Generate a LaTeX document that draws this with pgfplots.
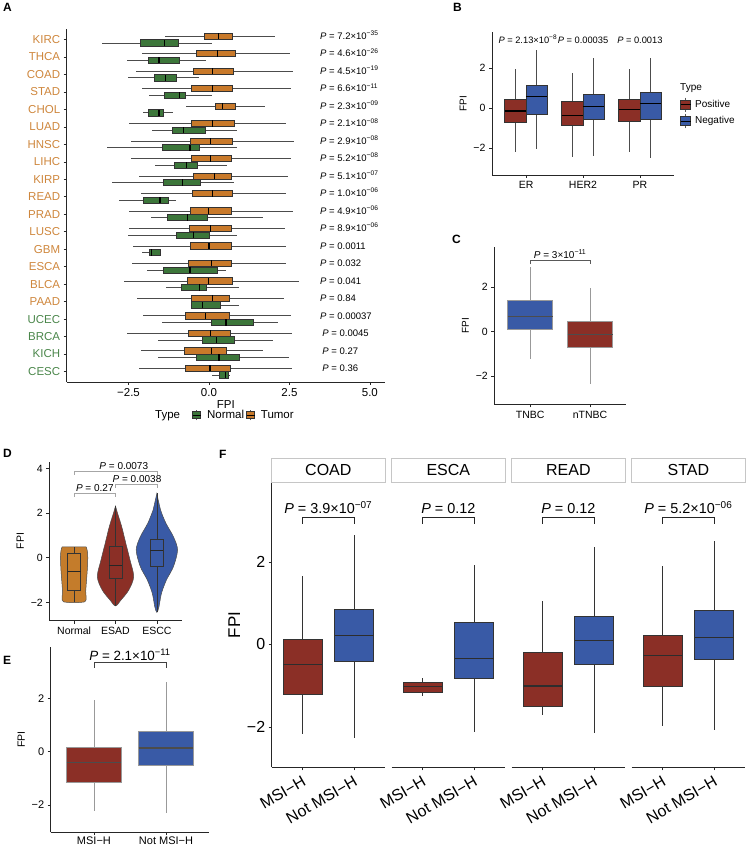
\documentclass[border=0pt]{standalone}
\usepackage{pgfplots}
\pgfplotsset{compat=1.18}
\usepackage{pgfplotstable}
\usepgfplotslibrary{statistics}
\usepackage{fontspec}
\setmainfont{Liberation Sans}

\definecolor{ora}{RGB}{200,121,42}
\definecolor{oralab}{RGB}{206,134,60}
\definecolor{grn}{RGB}{60,118,58}
\definecolor{grnlab}{RGB}{74,134,74}
\definecolor{redb}{RGB}{139,47,38}
\definecolor{blueb}{RGB}{57,90,166}
\definecolor{oraD}{RGB}{196,124,43}

\newcommand{\fs}[1]{\fontsize{#1}{#1}\selectfont}
\newcommand{\sci}[2]{\textit{P} = #1×10\textsuperscript{−#2}}
\newcommand{\pv}[1]{\textit{P} = #1}

% one prepared boxplot from a table row: {table}{row}{position}{style}
\newcommand{\bxrow}[4]{%
  \pgfplotstablegetelem{#2}{lw}\of#1\edef\vlw{\pgfplotsretval}%
  \pgfplotstablegetelem{#2}{q1}\of#1\edef\vqa{\pgfplotsretval}%
  \pgfplotstablegetelem{#2}{med}\of#1\edef\vmed{\pgfplotsretval}%
  \pgfplotstablegetelem{#2}{q3}\of#1\edef\vqb{\pgfplotsretval}%
  \pgfplotstablegetelem{#2}{uw}\of#1\edef\vuw{\pgfplotsretval}%
  \edef\doit{\noexpand\addplot[#4, boxplot prepared={draw position={#3},
     lower whisker=\vlw, lower quartile=\vqa, median=\vmed,
     upper quartile=\vqb, upper whisker=\vuw}] coordinates {};}%
  \doit}

% Panel A
\pgfplotstableread{
name lw q1 med q3 uw
KIRC -1.37 -0.16 0.29 0.72 2.05
THCA -2.07 -0.40 0.26 0.81 2.52
COAD -2.27 -0.49 0.11 0.76 2.60
STAD -2.07 -0.56 0.10 0.72 2.54
CHOL -0.71 0.19 0.42 0.83 1.74
LUAD -2.47 -0.56 0.10 0.78 2.38
HNSC -2.42 -0.57 0.05 0.72 2.64
LIHC -2.42 -0.56 0.05 0.70 2.54
KIRP -2.16 -0.49 0.16 0.70 2.46
READ -2.12 -0.52 0.11 0.72 2.38
PRAD -2.47 -0.59 -0.02 0.68 2.60
LUSC -2.47 -0.61 0.05 0.68 2.36
GBM -2.37 -0.57 0.00 0.68 2.39
ESCA -2.40 -0.64 0.08 0.68 2.38
BLCA -2.64 -0.66 -0.02 0.72 2.80
PAAD -2.25 -0.56 0.11 0.62 2.33
UCEC -2.06 -0.72 -0.10 0.62 2.54
BRCA -2.56 -0.63 0.05 0.65 2.59
KICH -2.11 -0.78 0.08 0.53 1.69
CESC -2.17 -0.72 0.03 0.67 2.57
}\tumA
\pgfplotstableread{
name lw q1 med q3 uw
KIRC -3.33 -2.14 -1.37 -0.95 0.11
THCA -2.56 -1.88 -1.55 -0.92 -0.10
COAD -2.53 -1.70 -1.34 -1.00 -0.31
STAD -1.86 -1.39 -0.92 -0.75 0.08
CHOL -2.04 -1.88 -1.55 -1.42 -1.11
LUAD -1.78 -1.14 -0.80 -0.10 0.86
HNSC -3.16 -1.45 -0.59 -0.30 0.86
LIHC -1.68 -1.09 -0.69 -0.35 0.57
KIRP -3.02 -1.42 -0.83 -0.26 0.79
READ -2.78 -2.04 -1.52 -1.26 -1.02
PRAD -1.80 -1.28 -0.66 -0.04 1.69
LUSC -2.51 -1.02 -0.49 0.00 0.86
GBM -2.07 -1.86 -1.78 -1.50 -1.50
ESCA -1.92 -1.42 -0.59 0.26 0.52
BLCA -1.35 -0.87 -0.30 -0.09 0.93
PAAD -0.57 -0.56 -0.21 0.36 0.94
UCEC -1.45 0.08 0.53 1.38 2.15
BRCA -1.57 -0.20 0.24 0.78 2.00
KICH -1.57 -0.40 0.31 0.94 2.48
CESC 0.10 0.31 0.52 0.60 0.65
}\norA
% Panel B
\pgfplotstableread{
name lw q1 med q3 uw
ER -2.20 -0.70 -0.14 0.42 1.95
HER2 -2.42 -0.87 -0.37 0.33 1.75
PR -2.20 -0.67 -0.08 0.42 1.95
}\posB
\pgfplotstableread{
name lw q1 med q3 uw
ER -2.03 -0.30 0.60 1.13 2.88
HER2 -2.37 -0.53 0.07 0.67 2.50
PR -2.47 -0.55 0.25 0.80 2.50
}\negB
% Panel C
\pgfplotstableread{
name lw q1 med q3 uw
TNBC -1.24 0.12 0.68 1.40 2.91
nTNBC -2.37 -0.70 -0.12 0.45 1.98
}\tabC
% Panel D
\pgfplotstableread{
name lw q1 med q3 uw
Normal -1.97 -1.45 -0.61 0.22 0.49
ESAD -2.16 -0.92 -0.36 0.52 2.31
ESCC -2.45 -0.37 0.31 0.82 2.88
}\tabD
% Panel E
\pgfplotstableread{
name lw q1 med q3 uw
MSIH -2.21 -1.15 -0.41 0.15 1.94
NotMSIH -2.31 -0.50 0.14 0.78 2.60
}\tabE
% Panel F
\pgfplotstableread{
name lw q1 med q3 uw
COAD -2.18 -1.20 -0.49 0.13 1.66
ESCA -1.25 -1.15 -1.03 -0.93 -0.82
READ -1.70 -1.51 -1.01 -0.18 1.06
STAD -1.98 -1.01 -0.26 0.23 1.91
}\msiF
\pgfplotstableread{
name lw q1 med q3 uw
COAD -2.28 -0.40 0.21 0.86 2.65
ESCA -2.12 -0.82 -0.34 0.53 1.92
READ -2.14 -0.48 0.10 0.67 2.37
STAD -2.08 -0.35 0.17 0.83 2.51
}\notF

\pgfplotsset{
  every axis/.append style={scale only axis, axis lines=left,
    axis line style={-, line width=0.6pt, black!85},
    tick style={black!85, line width=0.6pt}, tick align=outside,
    major tick length=3pt, clip=false,
    /pgf/number format/assume math mode=true},
  bxs/.style n args={4}{boxplot/every box/.style={draw=#2, fill=#1, line width=0.6pt},
     boxplot/every whisker/.style={draw=#3, line width=0.6pt},
     boxplot/every median/.style={draw=#4, line width=1.2pt}},
  bxo/.style 2 args={boxplot/draw direction=#2, boxplot/box extend=#1, boxplot/whisker extend=0},
  keyB/.style={legend image code/.code={
     \draw[gray!70!black, line width=0.5pt] (5pt,-7pt)--(5pt,7pt);
     \draw[##1, line width=0.5pt] (0pt,-4.5pt) rectangle (10pt,4.5pt);
     \draw[black, line width=0.9pt] (0pt,0pt)--(10pt,0pt);}},
  keyA/.style={legend image code/.code={
     \draw[gray!70!black, line width=0.5pt] (4pt,-5pt)--(4pt,5pt);
     \draw[##1, line width=0.5pt] (0pt,-3.3pt) rectangle (8pt,3.3pt);
     \draw[black, line width=0.8pt] (0pt,0pt)--(8pt,0pt);}},
  facetF/.style={width=113.3pt, height=285pt, anchor=south west,
     xmin=0.4, xmax=2.6, ymin=-2.98, ymax=3.93,
     xtick={1,2}, xticklabels={MSI−H,Not MSI−H},
     xticklabel style={rotate=30, anchor=north east, font=\fs{16}},
     yticklabel style={font=\fs{16}},
     every axis title/.style={at={(0.5,1)}, anchor=south, draw=gray!45, fill=white,
        line width=0.6pt, minimum width=113.3pt, minimum height=24pt, inner sep=0pt, font=\fs{16}}},
}

\begin{document}
\begin{tikzpicture}
\path[use as bounding box] (0,0) rectangle (748pt,847pt);

% ---------------- Panel A ----------------
\begin{axis}[at={(66.7pt,465pt)}, anchor=south west, width=318.3pt, height=353pt,
  xmin=-4.42, xmax=5.47, ymin=0.4, ymax=20.6,
  xtick={-2.5,0,2.5,5}, xticklabels={−2.5,0.0,2.5,5.0},
  ytick={1,...,20},
  yticklabels={\textcolor{grnlab}{CESC},\textcolor{grnlab}{KICH},\textcolor{grnlab}{BRCA},\textcolor{grnlab}{UCEC},\textcolor{oralab}{PAAD},\textcolor{oralab}{BLCA},\textcolor{oralab}{ESCA},\textcolor{oralab}{GBM},\textcolor{oralab}{LUSC},\textcolor{oralab}{PRAD},\textcolor{oralab}{READ},\textcolor{oralab}{KIRP},\textcolor{oralab}{LIHC},\textcolor{oralab}{HNSC},\textcolor{oralab}{LUAD},\textcolor{oralab}{CHOL},\textcolor{oralab}{STAD},\textcolor{oralab}{COAD},\textcolor{oralab}{THCA},\textcolor{oralab}{KIRC}},
  ticklabel style={font=\fs{11.5}},
  xlabel={FPI}, xlabel style={font=\fs{11.5}, yshift=2.5pt},
  legend columns=-1,
  legend style={at={(0.557,-0.0935)}, anchor=center, draw=none, fill=none, font=\fs{11.5},
    inner sep=0pt}]
\addlegendimage{keyA, fill=grn, draw=black!80}\addlegendentry{\hspace{4pt}Normal\hspace{7pt}}
\addlegendimage{keyA, fill=ora, draw=black!80}\addlegendentry{\hspace{4pt}Tumor}
\pgfplotsinvokeforeach{0,...,19}{
 \bxrow{\tumA}{#1}{20.19-#1}{black, bxs={ora}{black!80}{gray!60!black}{black}, bxo={0.36}{x}}
 \bxrow{\norA}{#1}{19.81-#1}{black, bxs={grn}{black!80}{gray!60!black}{black}, bxo={0.36}{x}}
}
\begin{scope}[every node/.style={anchor=base west, font=\fs{9.5}, inner sep=0pt}]
\node at (axis cs:3.45,20) {\sci{7.2}{35}};
\node at (axis cs:3.45,19) {\sci{4.6}{26}};
\node at (axis cs:3.45,18) {\sci{4.5}{19}};
\node at (axis cs:3.45,17) {\sci{6.6}{11}};
\node at (axis cs:3.45,16) {\sci{2.3}{09}};
\node at (axis cs:3.45,15) {\sci{2.1}{08}};
\node at (axis cs:3.45,14) {\sci{2.9}{08}};
\node at (axis cs:3.45,13) {\sci{5.2}{08}};
\node at (axis cs:3.45,12) {\sci{5.1}{07}};
\node at (axis cs:3.45,11) {\sci{1.0}{06}};
\node at (axis cs:3.45,10) {\sci{4.9}{06}};
\node at (axis cs:3.45,9) {\sci{8.9}{06}};
\node at (axis cs:3.45,8) {\pv{0.0011}};
\node at (axis cs:3.45,7) {\pv{0.032}};
\node at (axis cs:3.45,6) {\pv{0.041}};
\node at (axis cs:3.45,5) {\pv{0.84}};
\node at (axis cs:3.45,4) {\pv{0.00037}};
\node at (axis cs:3.52,3) {\pv{0.0045}};
\node at (axis cs:3.52,2) {\pv{0.27}};
\node at (axis cs:3.52,1) {\pv{0.36}};
\end{scope}
\end{axis}
\node[anchor=base west, font=\fs{11.5}, inner sep=0pt] at (155pt,428.5pt) {Type};

% ---------------- Panel B ----------------
\begin{axis}[at={(492pt,672pt)}, anchor=south west, width=182pt, height=143pt,
  xmin=0.4, xmax=3.6, ymin=-3.33, ymax=3.8,
  xtick={1,2,3}, xticklabels={ER,HER2,PR}, ytick={-2,0,2}, yticklabels={−2,0,2},
  ticklabel style={font=\fs{10.5}}, ylabel={FPI}, ylabel style={font=\fs{10}},
  legend style={at={(1.033,0.545)}, anchor=north west, draw=none, fill=none, font=\fs{10},
    legend cell align=left, row sep=2pt, inner sep=0pt}]
\addlegendimage{keyB, fill=redb, draw=black!80}\addlegendentry{\hspace{2pt}Positive}
\addlegendimage{keyB, fill=blueb, draw=black!80}\addlegendentry{\hspace{2pt}Negative}
\pgfplotsinvokeforeach{0,1,2}{
 \bxrow{\posB}{#1}{#1+0.8125}{black, bxs={redb}{black!80}{gray!60!black}{black}, bxo={0.375}{y}}
 \bxrow{\negB}{#1}{#1+1.1875}{black, bxs={blueb}{black!80}{gray!60!black}{black}, bxo={0.375}{y}}
}
\node[anchor=base, font=\fs{9.3}] at (axis cs:1.03,3.25) {\sci{2.13}{8}};
\node[anchor=base, font=\fs{9.3}] at (axis cs:2,3.25) {\pv{0.00035}};
\node[anchor=base, font=\fs{9.3}] at (axis cs:3,3.25) {\pv{0.0013}};
\end{axis}
\node[anchor=base west, font=\fs{10}, inner sep=0pt] at (680pt,756pt) {Type};

% ---------------- Panel C ----------------
\begin{axis}[at={(494.3pt,442.7pt)}, anchor=south west, width=131.7pt, height=157.6pt,
  xmin=0.4, xmax=2.6, ymin=-3.27, ymax=3.83,
  xtick={1,2}, xticklabels={TNBC,nTNBC}, ytick={-2,0,2}, yticklabels={−2,0,2},
  ticklabel style={font=\fs{10.5}}, ylabel={FPI}, ylabel style={font=\fs{10}}]
\bxrow{\tabC}{0}{1}{gray, bxs={blueb}{gray!80}{gray!80}{gray!60!black}, bxo={0.75}{y}}
\bxrow{\tabC}{1}{2}{gray, bxs={redb}{gray!80}{gray!80}{gray!60!black}, bxo={0.75}{y}}
\addplot[gray!70!black, line width=0.6pt] coordinates {(1,3.05) (1,3.2) (2,3.2) (2,3.05)};
\node[anchor=base, font=\fs{10}] at (axis cs:1.5,3.3) {\sci{3}{11}};
\end{axis}

% ---------------- Panel D ----------------
\begin{axis}[at={(49.3pt,226.3pt)}, anchor=south west, width=132.4pt, height=159pt,
  xmin=0.4, xmax=3.6, ymin=-2.82, ymax=4.3,
  xtick={1,2,3}, xticklabels={Normal,ESAD,ESCC}, ytick={-2,0,2,4}, yticklabels={−2,0,2,4},
  ticklabel style={font=\fs{10.5}}, ylabel={FPI}, ylabel style={font=\fs{10.5}}]
\addplot[fill=oraD, draw=black!70, line width=0.5pt, smooth, tension=0.4] coordinates {
 (1.29,0.49) (1.32,0.3) (1.33,0) (1.32,-0.5) (1.30,-1.0) (1.28,-1.5) (1.26,-1.97)
 (0.74,-1.97) (0.72,-1.5) (0.70,-1.0) (0.68,-0.5) (0.67,0) (0.68,0.3) (0.71,0.49)} -- cycle;
\addplot[fill=redb, draw=black!70, line width=0.5pt, smooth, tension=0.5] coordinates {
 (2.0,2.31) (2.05,1.99) (2.15,1.39) (2.25,0.64) (2.35,-0.1) (2.44,-0.85) (2.32,-1.45) (2.13,-1.9) (2.0,-2.16)
 (1.87,-1.9) (1.68,-1.45) (1.56,-0.85) (1.65,-0.1) (1.75,0.64) (1.85,1.39) (1.95,1.99)} -- cycle;
\addplot[fill=blueb, draw=black!70, line width=0.5pt, smooth, tension=0.5] coordinates {
 (3.0,2.88) (3.09,2.14) (3.22,1.54) (3.40,0.94) (3.50,0.35) (3.40,-0.4) (3.23,-1.0) (3.11,-1.6) (3.05,-2.2) (3.0,-2.45)
 (2.95,-2.2) (2.89,-1.6) (2.77,-1.0) (2.60,-0.4) (2.50,0.35) (2.60,0.94) (2.78,1.54) (2.91,2.14)} -- cycle;
\pgfplotsinvokeforeach{0,1,2}{
 \bxrow{\tabD}{#1}{#1+1}{black, boxplot/every box/.style={draw=black!80, fill=none, line width=0.5pt},
   boxplot/every whisker/.style={draw=black!80, line width=0.5pt},
   boxplot/every median/.style={draw=black!85, line width=0.8pt}, bxo={0.32}{y}}
}
\addplot[gray!70, line width=0.6pt] coordinates {(1,2.72) (1,2.88) (2,2.88) (2,2.72)};
\addplot[gray!70, line width=0.6pt] coordinates {(2,3.14) (2,3.30) (3,3.30) (3,3.14)};
\addplot[gray!70, line width=0.6pt] coordinates {(1,3.72) (1,3.88) (3,3.88) (3,3.72)};
\node[anchor=base, font=\fs{10}] at (axis cs:1.5,2.97) {\pv{0.27}};
\node[anchor=base, font=\fs{10}] at (axis cs:2.52,3.39) {\pv{0.0038}};
\node[anchor=base, font=\fs{10}] at (axis cs:2.2,3.97) {\pv{0.0073}};
\end{axis}

% ---------------- Panel E ----------------
\begin{axis}[at={(50.7pt,14.7pt)}, anchor=south west, width=158.6pt, height=185.6pt,
  xmin=0.4, xmax=2.6, ymin=-3.02, ymax=3.93,
  xtick={1,2}, xticklabels={MSI−H,Not MSI−H}, ytick={-2,0,2}, yticklabels={−2,0,2},
  ticklabel style={font=\fs{11}}, xticklabel style={yshift=2pt},
  ylabel={FPI}, ylabel style={font=\fs{10.5}}]
\bxrow{\tabE}{0}{1}{gray, bxs={redb}{gray!80}{gray!80}{gray!60!black}, bxo={0.76}{y}}
\bxrow{\tabE}{1}{2}{gray, bxs={blueb}{gray!80}{gray!80}{gray!60!black}, bxo={0.76}{y}}
\addplot[black!75, line width=0.6pt] coordinates {(1,3.15) (1,3.33) (2,3.33) (2,3.15)};
\node[anchor=base, font=\fs{13.4}] at (axis cs:1.5,3.42) {\sci{2.1}{11}};
\end{axis}

% ---------------- Panel F ----------------
\begin{axis}[facetF, at={(271.7pt,79.7pt)}, title={COAD},
  ytick={-2,0,2}, yticklabels={−2,0,2}, ylabel={FPI}, ylabel style={font=\fs{17}}]
\bxrow{\msiF}{0}{1}{gray, bxs={redb}{gray!40!black}{gray!40!black}{gray!35!black}, bxo={0.76}{y}}
\bxrow{\notF}{0}{2}{gray, bxs={blueb}{gray!40!black}{gray!40!black}{gray!35!black}, bxo={0.76}{y}}
\addplot[black!85, line width=0.7pt] coordinates {(1,2.92) (1,3.09) (2,3.09) (2,2.92)};
\node[anchor=base, font=\fs{14.4}] at (axis cs:1.5,3.18) {\sci{3.9}{07}};
\end{axis}
\begin{axis}[facetF, at={(391.7pt,79.7pt)}, title={ESCA}, axis y line=none, ytick=\empty]
\bxrow{\msiF}{1}{1}{gray, bxs={redb}{gray!40!black}{gray!40!black}{gray!35!black}, bxo={0.76}{y}}
\bxrow{\notF}{1}{2}{gray, bxs={blueb}{gray!40!black}{gray!40!black}{gray!35!black}, bxo={0.76}{y}}
\addplot[black!85, line width=0.7pt] coordinates {(1,2.92) (1,3.09) (2,3.09) (2,2.92)};
\node[anchor=base, font=\fs{14.4}] at (axis cs:1.5,3.18) {\pv{0.12}};
\end{axis}
\begin{axis}[facetF, at={(511.7pt,79.7pt)}, title={READ}, axis y line=none, ytick=\empty]
\bxrow{\msiF}{2}{1}{gray, bxs={redb}{gray!40!black}{gray!40!black}{gray!35!black}, bxo={0.76}{y}}
\bxrow{\notF}{2}{2}{gray, bxs={blueb}{gray!40!black}{gray!40!black}{gray!35!black}, bxo={0.76}{y}}
\addplot[black!85, line width=0.7pt] coordinates {(1,2.92) (1,3.09) (2,3.09) (2,2.92)};
\node[anchor=base, font=\fs{14.4}] at (axis cs:1.5,3.18) {\pv{0.12}};
\end{axis}
\begin{axis}[facetF, at={(631.7pt,79.7pt)}, title={STAD}, axis y line=none, ytick=\empty]
\bxrow{\msiF}{3}{1}{gray, bxs={redb}{gray!40!black}{gray!40!black}{gray!35!black}, bxo={0.76}{y}}
\bxrow{\notF}{3}{2}{gray, bxs={blueb}{gray!40!black}{gray!40!black}{gray!35!black}, bxo={0.76}{y}}
\addplot[black!85, line width=0.7pt] coordinates {(1,2.92) (1,3.09) (2,3.09) (2,2.92)};
\node[anchor=base, font=\fs{14.4}] at (axis cs:1.5,3.18) {\sci{5.2}{06}};
\end{axis}

% panel letters
\begin{scope}[every node/.style={anchor=north west, inner sep=0pt, font=\bfseries\fs{12}}]
\node at (3pt,844pt) {A};
\node at (453pt,844pt) {B};
\node at (452pt,612pt) {C};
\node at (3pt,398pt) {D};
\node at (3pt,191pt) {E};
\node at (219pt,397pt) {F};
\end{scope}
\end{tikzpicture}
\end{document}
